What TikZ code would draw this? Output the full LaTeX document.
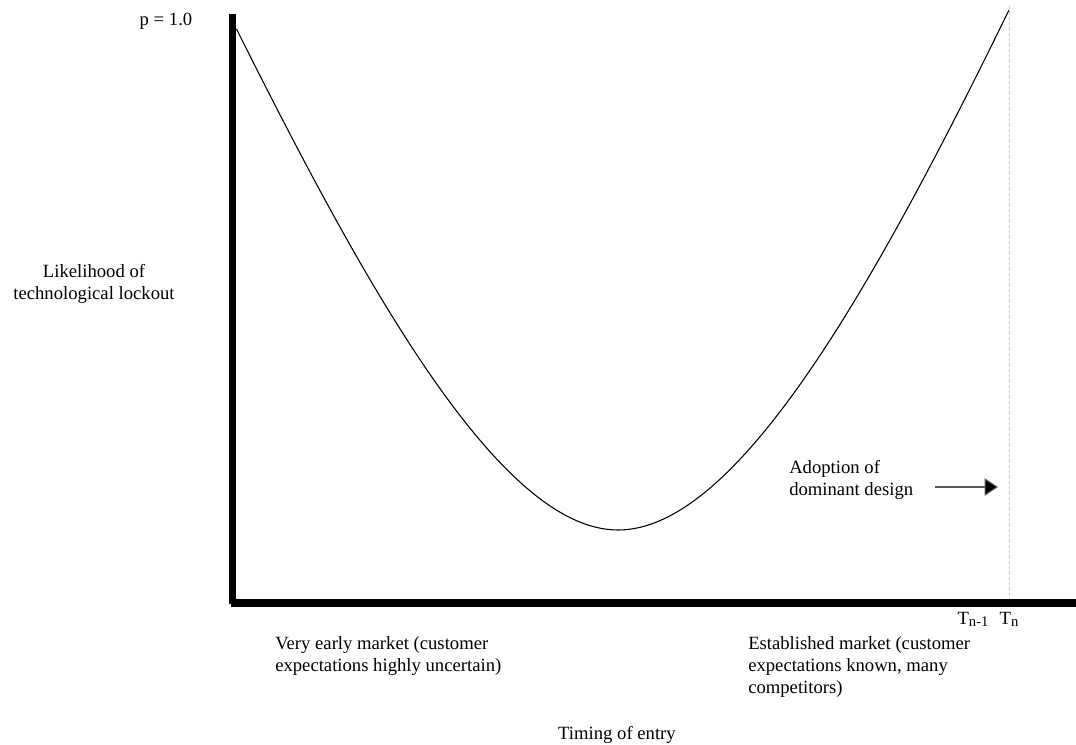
\documentclass[tikz,border=0pt]{standalone}
\usepackage{fontspec}
\setmainfont{Liberation Serif}
\usetikzlibrary{arrows.meta}
\newcommand{\subn}[1]{\raisebox{-0.3ex}{\fontsize{11pt}{11pt}\selectfont #1}}
\tikzset{
  lbl/.style={inner sep=0pt, font=\fontsize{14pt}{16.5pt}\selectfont},
  vbar/.style={line width=5.2pt, line cap=butt},
  hbar/.style={line width=6pt, line cap=butt},
  curve/.style={line width=0.8pt},
  guide/.style={draw=black!22, line width=0.6pt, dash pattern=on 2.5pt off 1.5pt},
  pointer/.style={line width=0.8pt, draw=black!65, -{Triangle[length=10pt,width=13pt,fill=black]}}
}
\begin{document}
\begin{tikzpicture}[x=0.75pt,y=-0.75pt]
\useasboundingbox (0,0) rectangle (1076,745);
% axes
\coordinate (ytop) at (232.7,14);
\coordinate (ybot) at (232.7,604);
\coordinate (xstart) at (231,602.6);
\coordinate (xend) at (1076,602.6);
\draw[vbar] (ytop) -- (ybot);
\draw[hbar] (xstart) -- (xend);
% guide line at Tn
\coordinate (gtop) at (1009,6);
\coordinate (gbot) at (1009,599);
\draw[guide] (gtop) -- (gbot);
% curve
\coordinate (cs) at (236.5,29);
\coordinate (cmin) at (618,530);
\coordinate (ce) at (1009,10);
\draw[curve] (cs) .. controls (366,288) and (500,530) .. (cmin)
                  .. controls (735,530) and (869,297) .. (ce);
% labels
\node[lbl, anchor=base] (p) at (166,26) {p = 1.0};
\node[lbl, align=center, anchor=north] (ylab) at (94,264) {Likelihood of\\technological lockout};
\node[lbl, align=left, anchor=north west] (adopt) at (789,460) {Adoption of\\dominant design};
\coordinate (arrs) at (935,487);
\coordinate (arre) at (998,487);
\draw[pointer] (arrs) -- (arre);
\node[lbl, anchor=base] (tn1) at (973,624) {T\subn{n-1}};
\node[lbl, anchor=base] (tn) at (1009,624) {T\subn{n}};
\node[lbl, align=left, anchor=north west] (early) at (275,636) {Very early market (customer\\expectations highly uncertain)};
\node[lbl, align=left, anchor=north west] (late) at (748,636) {Established market (customer\\expectations known, many\\competitors)};
\node[lbl] (xlab) at (617,735) {Timing of entry};
\end{tikzpicture}
\end{document}
